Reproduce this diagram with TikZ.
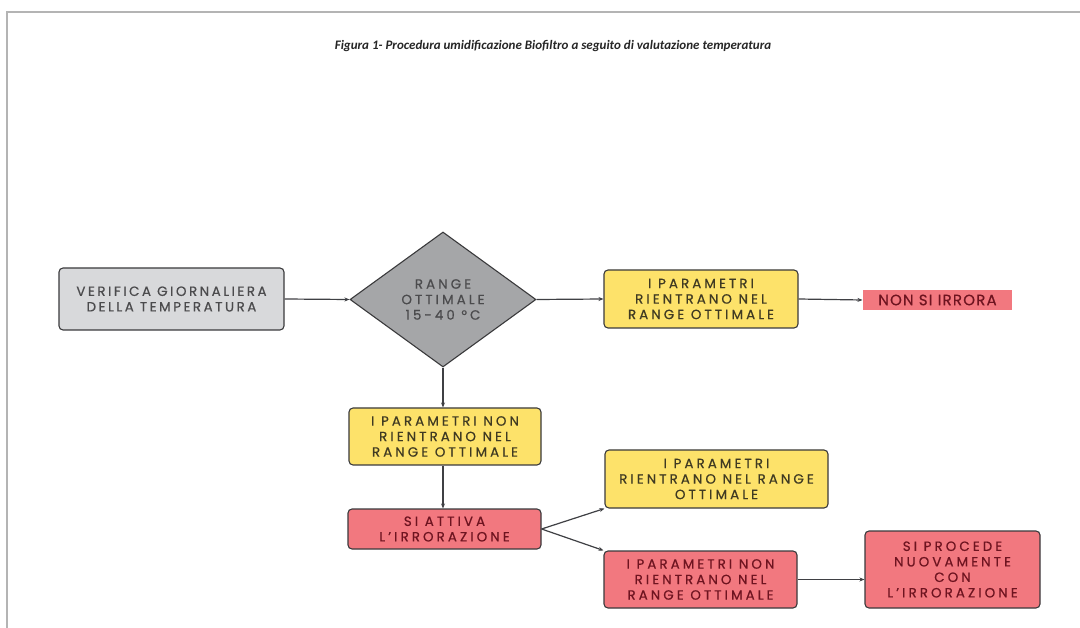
\documentclass[tikz,border=0pt]{standalone}
\usepackage{fontspec}
\setmainfont{Poppins}
\newfontfamily\titlefont{Carlito}
\usetikzlibrary{shapes.geometric,arrows.meta}
\definecolor{pageline}{HTML}{B4B4B4}
\definecolor{boxline}{HTML}{3A3A3C}
\definecolor{lgray}{HTML}{D8D9DB}
\definecolor{dgray}{HTML}{A5A6A8}
\definecolor{yel}{HTML}{FDE26A}
\definecolor{redf}{HTML}{F2787F}
\definecolor{txtgray}{HTML}{4B4B4D}
\definecolor{txtyel}{HTML}{3F3A22}
\definecolor{txtred}{HTML}{6E1420}
\definecolor{arrowc}{HTML}{3F4044}
\newcommand\boxfont{\addfontfeatures{LetterSpace=23,FakeBold=0.6}\fontsize{13.4}{15.5}\selectfont}
\tikzset{
  base/.style={draw=boxline, line width=1.1pt, rounded corners=4pt, align=center,
    inner sep=0pt, font=\boxfont},
  graybox/.style={base, fill=lgray, text=txtgray},
  yelbox/.style={base, fill=yel, text=txtyel},
  redbox/.style={base, fill=redf, text=txtred},
  decis/.style={diamond, draw=boxline, line width=1.1pt, fill=dgray, text=txtgray, align=center,
    inner sep=0pt, font=\boxfont},
  flow/.style={draw=arrowc, line width=1.2pt, -{Stealth[length=5pt,width=4pt]}}
}
\begin{document}
\begin{tikzpicture}[x=1pt,y=-1pt]
\useasboundingbox (0,0) rectangle (1080,628);
\fill[white] (0,0) rectangle (1080,628);
\draw[pageline, line width=1.8pt] (7,628) -- (7,12) -- (1080,12);
\node[font=\titlefont\itshape\bfseries\fontsize{13}{15}\selectfont, text=black!85] (title) at (553,46)
  {Figura 1- Procedura umidificazione Biofiltro a seguito di valutazione temperatura};

\node[graybox, minimum width=225pt, minimum height=62pt,
  font=\addfontfeatures{LetterSpace=19,FakeBold=0.6}\fontsize{13.4}{15.5}\selectfont] (v) at (171.5,299)
  {VERIFICA GIORNALIERA\\DELLA TEMPERATURA};
\node[decis, minimum width=186pt, minimum height=135pt] (d) at (443,299.5)
  {RANGE\\OTTIMALE\\15-40 °C};
\node[yelbox, minimum width=194pt, minimum height=58pt] (y1) at (701,299)
  {I PARAMETRI\\RIENTRANO NEL\\RANGE OTTIMALE};
\node[redbox, draw=none, rounded corners=0pt, minimum width=149pt, minimum height=20pt,
  font=\addfontfeatures{LetterSpace=8,FakeBold=0.6}\fontsize{15}{16}\selectfont] (n) at (937.5,300)
  {NON SI IRRORA};
\node[yelbox, minimum width=192pt, minimum height=57pt] (y2) at (445,436.5)
  {I PARAMETRI NON\\RIENTRANO NEL\\RANGE OTTIMALE};
\node[redbox, minimum width=193pt, minimum height=40pt] (r1) at (444.5,529)
  {SI ATTIVA\\L'IRRORAZIONE};
\node[yelbox, minimum width=223pt, minimum height=58pt] (y3) at (716.5,479)
  {I PARAMETRI\\RIENTRANO NEL RANGE\\OTTIMALE};
\node[redbox, minimum width=193pt, minimum height=57pt] (r2) at (700.5,579.5)
  {I PARAMETRI NON\\RIENTRANO NEL\\RANGE OTTIMALE};
\node[redbox, minimum width=175pt, minimum height=77pt] (r3) at (952.5,569.5)
  {SI PROCEDE\\NUOVAMENTE\\CON\\L'IRRORAZIONE};

\draw[flow] (v.east) -- (d.west);
\draw[flow] (d.east) -- (y1.west);
\draw[flow] (y1.east) -- (n.west);
\draw[flow] (d.south) -- (d.south |- y2.north);
\draw[flow] (y2.south -| d.south) -- (r1.north -| d.south);
\draw[flow] (r1.east) -- (y3.south west);
\draw[flow] (r1.east) -- (r2.north west);
\draw[flow] (r2.east) -- (r2.east -| r3.west);
\end{tikzpicture}
\end{document}
